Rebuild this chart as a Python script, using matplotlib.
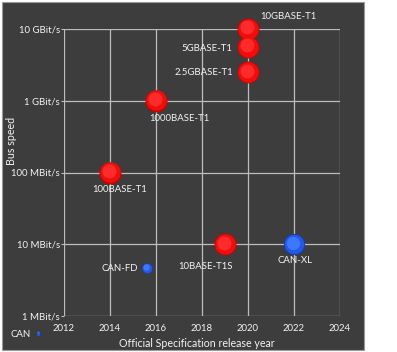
import matplotlib
matplotlib.use('Agg')
import matplotlib.pyplot as plt
from matplotlib.patches import Rectangle
from matplotlib.transforms import offset_copy

# Data (speed in MBit/s)
names = ['10GBASE-T1', '5GBASE-T1', '2.5GBASE-T1', '1000BASE-T1', '100BASE-T1',
         '10BASE-T1S', 'CAN-XL', 'CAN-FD', 'CAN']
years = [2020, 2020, 2020, 2016, 2014, 2019, 2022, 2015.6, 2010.9]
speeds = [10000, 5600, 2500, 1000, 100, 10, 10, 4.6, 0.56]
kinds = ['eth', 'eth', 'eth', 'eth', 'eth', 'eth', 'can', 'can', 'can']
ball_sizes = [250, 250, 250, 250, 250, 250, 230, 55, 6]

ytick_vals = [1, 10, 100, 1000, 10000]
ytick_labels = ['1 MBit/s', '10 MBit/s', '100 MBit/s', '1 GBit/s', '10 GBit/s']
xtick_vals = [2012, 2014, 2016, 2018, 2020, 2022, 2024]

# label offsets in points and alignment
label_pos = {
    '10GBASE-T1': (9, 9, 'left'),
    '5GBASE-T1': (-11, -1, 'right'),
    '2.5GBASE-T1': (-11, 0, 'right'),
    '1000BASE-T1': (-5, -13, 'left'),
    '100BASE-T1': (-13, -12, 'left'),
    '10BASE-T1S': (-34, -16, 'left'),
    'CAN-XL': (1, -12, 'center'),
    'CAN-FD': (-6, 0, 'right'),
    'CAN': (-6, 0, 'right'),
}

bg = '#3d3d3d'
txt = '#f4f4f4'
grid_col = '#bdbdbd'

plt.rcParams['font.family'] = ['Lato', 'DejaVu Sans']

fig = plt.figure(figsize=(3.97, 3.52), dpi=100)
fig.patch.set_facecolor('white')
fig.patches.append(Rectangle((2 / 397, 1 - 350 / 352), 362 / 397, 348 / 352,
                             transform=fig.transFigure, facecolor=bg,
                             edgecolor='#9a9a9a', linewidth=0.8, zorder=-1))

ax = fig.add_axes([64 / 397, 1 - 316 / 352, 276 / 397, 287 / 352])
ax.set_zorder(1)
ax.set_facecolor(bg)
ax.set_yscale('log')
ax.set_xlim(2012, 2024)
ax.set_ylim(1, 10000)
ax.set_xticks(xtick_vals)
ax.set_xticklabels([str(v) for v in xtick_vals])
ax.set_yticks(ytick_vals)
ax.set_yticklabels(ytick_labels)
ax.minorticks_off()
ax.grid(True, color=grid_col, linewidth=0.9)
ax.set_axisbelow(True)
for sp in ax.spines.values():
    sp.set_visible(False)
ax.tick_params(axis='x', length=0, pad=6, colors=txt, labelsize=6.9)
ax.tick_params(axis='y', length=2, pad=1, colors=txt, labelsize=6.9, color=grid_col)

ax.set_xlabel('Official Specification release year', color=txt, fontsize=7.7)
ax.xaxis.set_label_coords(0.48, -0.075)
ax.set_ylabel('Bus speed', color=txt, fontsize=7.7)
ax.yaxis.set_label_coords(-0.17, 0.61)

# simple 3d look: dark rim, main colour, lighter top
shades = {
    'eth': ['#cc0000', '#f20d0d', '#ff2b2b'],
    'can': ['#1238c4', '#215ae8', '#3d76ff'],
}

for name, x, y, kind, s in zip(names, years, speeds, kinds, ball_sizes):
    c = shades[kind]
    ax.scatter([x], [y], s=s, color=c[0], linewidths=0, zorder=3, clip_on=False)
    t1 = offset_copy(ax.transData, fig=fig, x=-0.2, y=0.3, units='points')
    ax.scatter([x], [y], s=s * 0.86, color=c[1], linewidths=0, zorder=4,
               transform=t1, clip_on=False)
    t2 = offset_copy(ax.transData, fig=fig, x=-0.4, y=1.2, units='points')
    ax.scatter([x], [y], s=s * 0.4, color=c[2], linewidths=0, zorder=5,
               transform=t2, clip_on=False)
    dx, dy, ha = label_pos[name]
    ax.annotate(name, (x, y), xytext=(dx, dy), textcoords='offset points',
                ha=ha, va='center', color=txt, fontsize=6.9, zorder=6,
                annotation_clip=False)

fig.savefig('out.png', dpi=100, facecolor=fig.get_facecolor())
